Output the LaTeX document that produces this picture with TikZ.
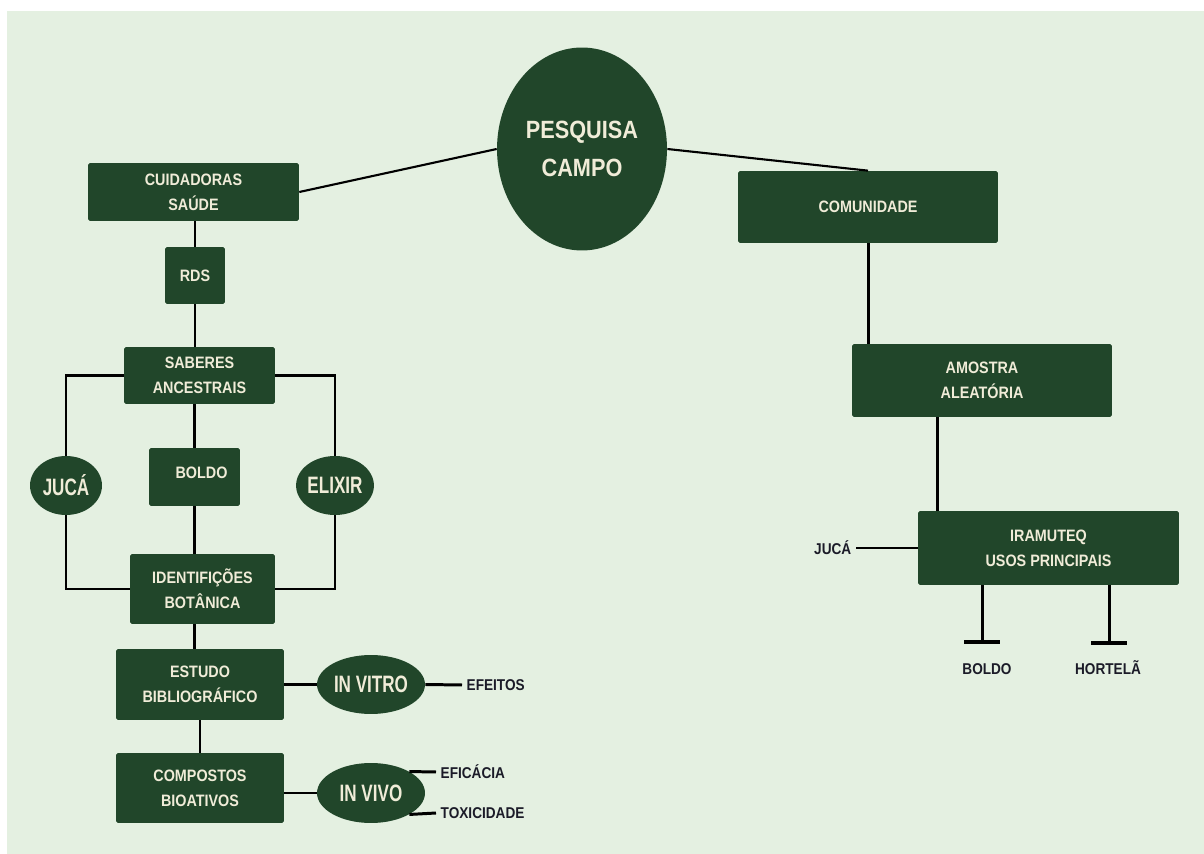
\documentclass[tikz,border=0pt]{standalone}
\usepackage{fontspec}
\setmainfont[FakeStretch=0.87]{Liberation Sans}
\newfontfamily\condfont[FakeStretch=0.72]{Liberation Sans}
\usetikzlibrary{arrows.meta,shapes.geometric}
\definecolor{fundo}{RGB}{228,240,225}
\definecolor{verde}{RGB}{33,70,42}
\definecolor{creme}{RGB}{240,236,216}
\definecolor{tinta}{RGB}{27,27,40}

\begin{document}
\begin{tikzpicture}
      [x = 0.02cm, y = -0.02cm,
      link/.style = {line width = 1.7pt, black},
      thin link/.style = {line width = 1.2pt, black},
      tbar/.style = {link, -{Bar[width = 20pt, line width = 2.3pt]}},
      box/.style = {
         rectangle,
         rounded corners = 1pt,
         fill = verde,
         text = creme,
         align = center,
         inner sep = 0pt,
         font = \fontsize{9.4}{14.2}\selectfont\bfseries
      },
      blob/.style = {
         ellipse,
         fill = verde,
         text = creme,
         inner sep = 0pt,
         font = \condfont\fontsize{13.5}{16}\selectfont\bfseries
      },
      word/.style = {
         inner sep = 2.5pt,
         text = tinta,
         font = \fontsize{8.9}{11}\selectfont\bfseries
      }]
      \useasboundingbox (0, 0) rectangle (1204, 854);
      \fill[fundo] (7, 11) rectangle (1204, 854);

      % centro
      \node[blob, minimum width = 3.4cm, minimum height = 4.06cm, align = center,
         font = \fontsize{14.2}{22}\selectfont\bfseries] (pesq) at (582, 149) {PESQUISA\\CAMPO};

      % ramo esquerdo
      \node[box, minimum width = 4.22cm, minimum height = 1.16cm] (cuid) at (193.5, 192) {CUIDADORAS\\SAÚDE};
      \node[box, minimum width = 1.2cm, minimum height = 1.14cm] (rds) at (195, 275.5) {RDS};
      \node[box, minimum width = 3.02cm, minimum height = 1.14cm] (saber) at (199.5, 375.5) {SABERES\\ANCESTRAIS};
      \node[box, minimum width = 1.82cm, minimum height = 1.16cm] (boldo) at (194.5, 477) {\raisebox{5pt}{\hspace*{8pt}BOLDO}};
      \node[blob, minimum width = 1.44cm, minimum height = 1.18cm] (juca) at (66, 485.5) {JUCÁ};
      \node[blob, minimum width = 1.44cm, minimum height = 1.18cm] (elixir) at (335, 485.5) {ELIXIR};
      \node[box, minimum width = 2.9cm, minimum height = 1.4cm] (ident) at (202.5, 589) {IDENTIFIÇÕES\\BOTÂNICA};
      \node[box, minimum width = 3.36cm, minimum height = 1.42cm] (estudo) at (200, 684.5) {ESTUDO\\BIBLIOGRÁFICO};
      \node[box, minimum width = 3.36cm, minimum height = 1.4cm] (compost) at (200, 788) {COMPOSTOS\\BIOATIVOS};
      \node[blob, minimum width = 2.16cm, minimum height = 1.18cm] (invitro) at (371, 684.5) {IN VITRO};
      \node[blob, minimum width = 2.16cm, minimum height = 1.2cm] (invivo) at (371, 793) {IN VIVO};
      \node[word, anchor = west] (efeitos) at (462, 685) {EFEITOS};
      \node[word, anchor = west] (eficacia) at (436, 772) {EFICÁCIA};
      \node[word, anchor = west] (toxic) at (436, 813) {TOXICIDADE};

      % ramo direito
      \node[box, minimum width = 5.2cm, minimum height = 1.44cm] (comun) at (868, 207) {\raisebox{-4pt}{COMUNIDADE}};
      \node[box, minimum width = 5.2cm, minimum height = 1.46cm] (amostra) at (982, 380.5) {AMOSTRA\\ALEATÓRIA};
      \node[box, minimum width = 5.22cm, minimum height = 1.48cm] (iram) at (1048.5, 548) {IRAMUTEQ\\USOS PRINCIPAIS};
      \node[word, anchor = east] (jucadir) at (856, 548) {JUCÁ};
      \node[word] (boldodir) at (987, 669) {BOLDO};
      \node[word] (hortela) at (1108, 668) {HORTELÃ};
      \coordinate (tboldo) at (982, 644);
      \coordinate (thortela) at (1109, 645);

      \draw[thin link] (cuid.east) -- (pesq.west);
      \draw[thin link] (pesq.east) -- (comun.north);

      \draw[link] (rds.north) -- (rds.north |- cuid.south);
      \draw[link] (rds.south) -- (rds.south |- saber.north);
      \draw[link] (boldo.north) -- (boldo.north |- saber.south);
      \draw[link] (boldo.south) -- (boldo.south |- ident.north);
      \draw[link] (saber.west) -| (juca.north);
      \draw[link] (juca.south) |- (ident.west);
      \draw[link] (saber.east) -| (elixir.north);
      \draw[link] (elixir.south) |- (ident.east);
      \draw[link] (boldo.south |- ident.south) -- (boldo.south |- estudo.north);
      \draw[link] (estudo.south) -- (compost.north);
      \draw[link] (estudo.east) -- (invitro.west);
      \draw[link] (invitro.east) -- (efeitos.west);
      \draw[link] (invivo.west) -- (invivo.west -| compost.east);
      \draw[link] (invivo.north east) -- (eficacia.west);
      \draw[link] (invivo.south east) -- (toxic.west);

      \draw[link] (comun.south) -- (comun.south |- amostra.north);
      \draw[link] ([xshift = -0.9cm]amostra.south) -- ([xshift = -0.9cm]amostra.south |- iram.north);
      \draw[link] (iram.west) -- (jucadir.east);
      \draw[tbar] (tboldo |- iram.south) -- (tboldo);
      \draw[tbar] (thortela |- iram.south) -- (thortela);
   \end{tikzpicture}
\end{document}
